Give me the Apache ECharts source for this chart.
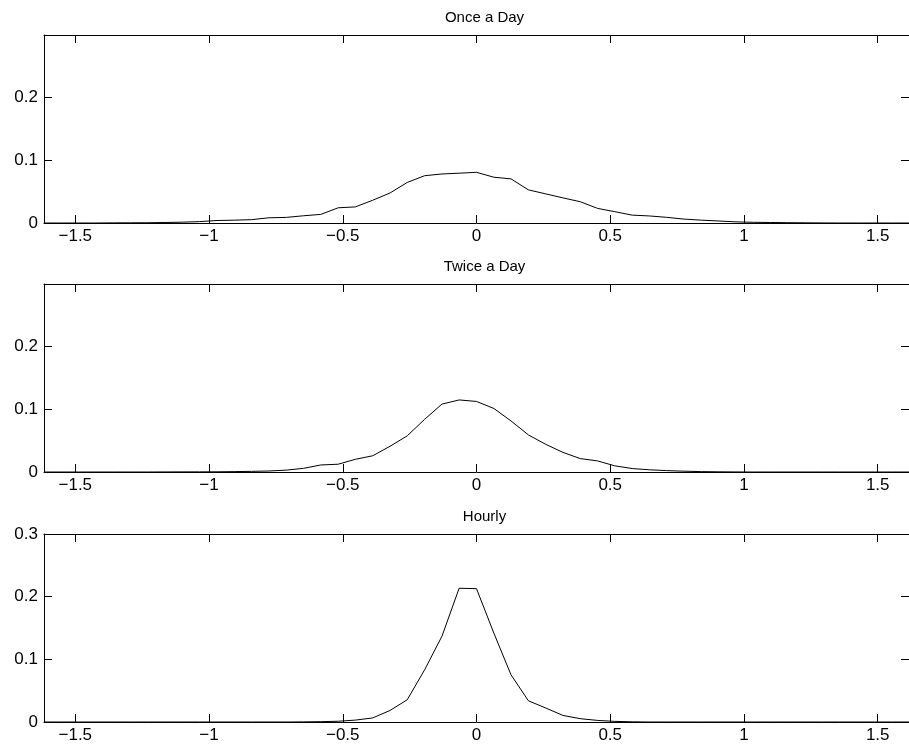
<!DOCTYPE html>
<html>
<head>
<meta charset="utf-8">
<script src="https://cdn.jsdelivr.net/npm/echarts@6/dist/echarts.min.js"></script>
<style>
  html, body { margin: 0; padding: 0; background: #fff; overflow: hidden; }
  #main { width: 909px; height: 752px; }
</style>
</head>
<body>
<div id="main"></div>
<script>
// bin centres (shared by all three panels)
var xs = [
  -1.617, -1.552, -1.488, -1.423, -1.358, -1.294, -1.229, -1.164, -1.100, -1.035,
  -0.970, -0.906, -0.841, -0.776, -0.711, -0.647, -0.582, -0.517, -0.453, -0.388,
  -0.323, -0.259, -0.194, -0.129, -0.065, 0,
  0.065, 0.129, 0.194, 0.259, 0.323, 0.388, 0.453, 0.517, 0.582, 0.647,
  0.711, 0.776, 0.841, 0.906, 0.970, 1.035, 1.100, 1.164, 1.229, 1.294,
  1.358, 1.423, 1.488, 1.552, 1.617
];

var onceADay = [
  0, 0, 0, 0, 0.0002, 0.0003, 0.0004, 0.0008, 0.0013, 0.0022,
  0.0040, 0.0045, 0.0053, 0.0083, 0.0089, 0.0115, 0.0137, 0.0242, 0.0256, 0.0362,
  0.0478, 0.0645, 0.0752, 0.0780, 0.0792, 0.0806,
  0.0728, 0.0702, 0.0527, 0.0463, 0.0400, 0.0338, 0.0232, 0.0180, 0.0125, 0.0112,
  0.0090, 0.0062, 0.0045, 0.0032, 0.0018, 0.0011, 0.0008, 0.0005, 0.0003, 0.0001,
  0, 0, 0, 0, 0
];

var twiceADay = [
  0, 0, 0, 0, 0, 0, 0, 0.0001, 0.0002, 0.0002,
  0.0003, 0.0006, 0.0010, 0.0016, 0.0030, 0.0058, 0.0112, 0.0124, 0.0202, 0.0258,
  0.0410, 0.0575, 0.0838, 0.1080, 0.1146, 0.1122,
  0.1010, 0.0812, 0.0590, 0.0440, 0.0312, 0.0213, 0.0176, 0.0098, 0.0055, 0.0035,
  0.0022, 0.0013, 0.0006, 0.0003, 0.0001, 0, 0, 0, 0, 0,
  0, 0, 0, 0, 0
];

var hourly = [
  0, 0, 0, 0, 0, 0, 0, 0, 0, 0,
  0, 0, 0, 0, 0, 0.0002, 0.0005, 0.0012, 0.0030, 0.0065,
  0.0185, 0.0355, 0.0833, 0.1370, 0.2134, 0.2128,
  0.1417, 0.0753, 0.0339, 0.0223, 0.0105, 0.0053, 0.0025, 0.0010, 0.0003, 0,
  0, 0, 0, 0, 0, 0, 0, 0, 0, 0,
  0, 0, 0, 0, 0
];

var titles = ["Once a Day", "Twice a Day", "Hourly"];
var xTicks = [-1.5, -1, -0.5, 0, 0.5, 1, 1.5];
var yTicksDay = [0, 0.1, 0.2];
var yTicksHourly = [0, 0.1, 0.2, 0.3];

var chart = echarts.init(document.getElementById("main"), null, { renderer: "canvas" });

var panels = [
  { data: onceADay, top: 35, yMax: 0.299, yTicks: yTicksDay },
  { data: twiceADay, top: 284, yMax: 0.299, yTicks: yTicksDay },
  { data: hourly, top: 534, yMax: 0.3, yTicks: yTicksHourly }
];

var FONT = "Liberation Sans, Arial, Helvetica, sans-serif";
var fmt = function (v) {
  return String(v).replace("-", "\u2212");
};

var grid = [], xAxis = [], yAxis = [], series = [], title = [];

panels.forEach(function (p, i) {
  grid.push({ left: 44, right: -6, top: p.top, height: 188, containLabel: false });

  title.push({
    text: titles[i],
    left: 479.5,
    top: p.top - 30,
    textAlign: "center",
    textStyle: { fontFamily: FONT, fontSize: 15, fontWeight: "normal", color: "#000" }
  });

  var xBase = {
    type: "value",
    gridIndex: i,
    min: -1.617,
    max: 1.617,
    splitLine: { show: false },
    axisLine: { show: true, onZero: false, lineStyle: { color: "#000", width: 1 } },
    axisTick: { show: true, inside: true, length: 8, customValues: xTicks,
                lineStyle: { color: "#000", width: 1 } }
  };
  xAxis.push(Object.assign({}, xBase, {
    position: "bottom",
    axisLabel: { show: true, customValues: xTicks, formatter: fmt, margin: 5,
                 fontFamily: FONT, fontSize: 17, color: "#000" }
  }));
  xAxis.push(Object.assign({}, xBase, {
    position: "top",
    axisLabel: { show: false }
  }));

  var yBase = {
    type: "value",
    gridIndex: i,
    min: 0,
    max: p.yMax,
    splitLine: { show: false },
    axisLine: { show: true, onZero: false, lineStyle: { color: "#000", width: 1 } },
    axisTick: { show: true, inside: true, length: 8, customValues: p.yTicks,
                lineStyle: { color: "#000", width: 1 } }
  };
  yAxis.push(Object.assign({}, yBase, {
    position: "left",
    axisLabel: { show: true, customValues: p.yTicks, margin: 6,
                 fontFamily: FONT, fontSize: 17, color: "#000" }
  }));
  yAxis.push(Object.assign({}, yBase, {
    position: "right",
    axisLabel: { show: false }
  }));

  series.push({
    type: "line",
    name: titles[i],
    xAxisIndex: i * 2,
    yAxisIndex: i * 2,
    showSymbol: false,
    symbol: "none",
    smooth: false,
    clip: true,
    lineStyle: { color: "#000", width: 1 },
    data: xs.map(function (x, k) { return [x, p.data[k]]; })
  });
});

chart.setOption({
  animation: false,
  backgroundColor: "#fff",
  title: title,
  grid: grid,
  xAxis: xAxis,
  yAxis: yAxis,
  series: series
});
</script>
</body>
</html>
